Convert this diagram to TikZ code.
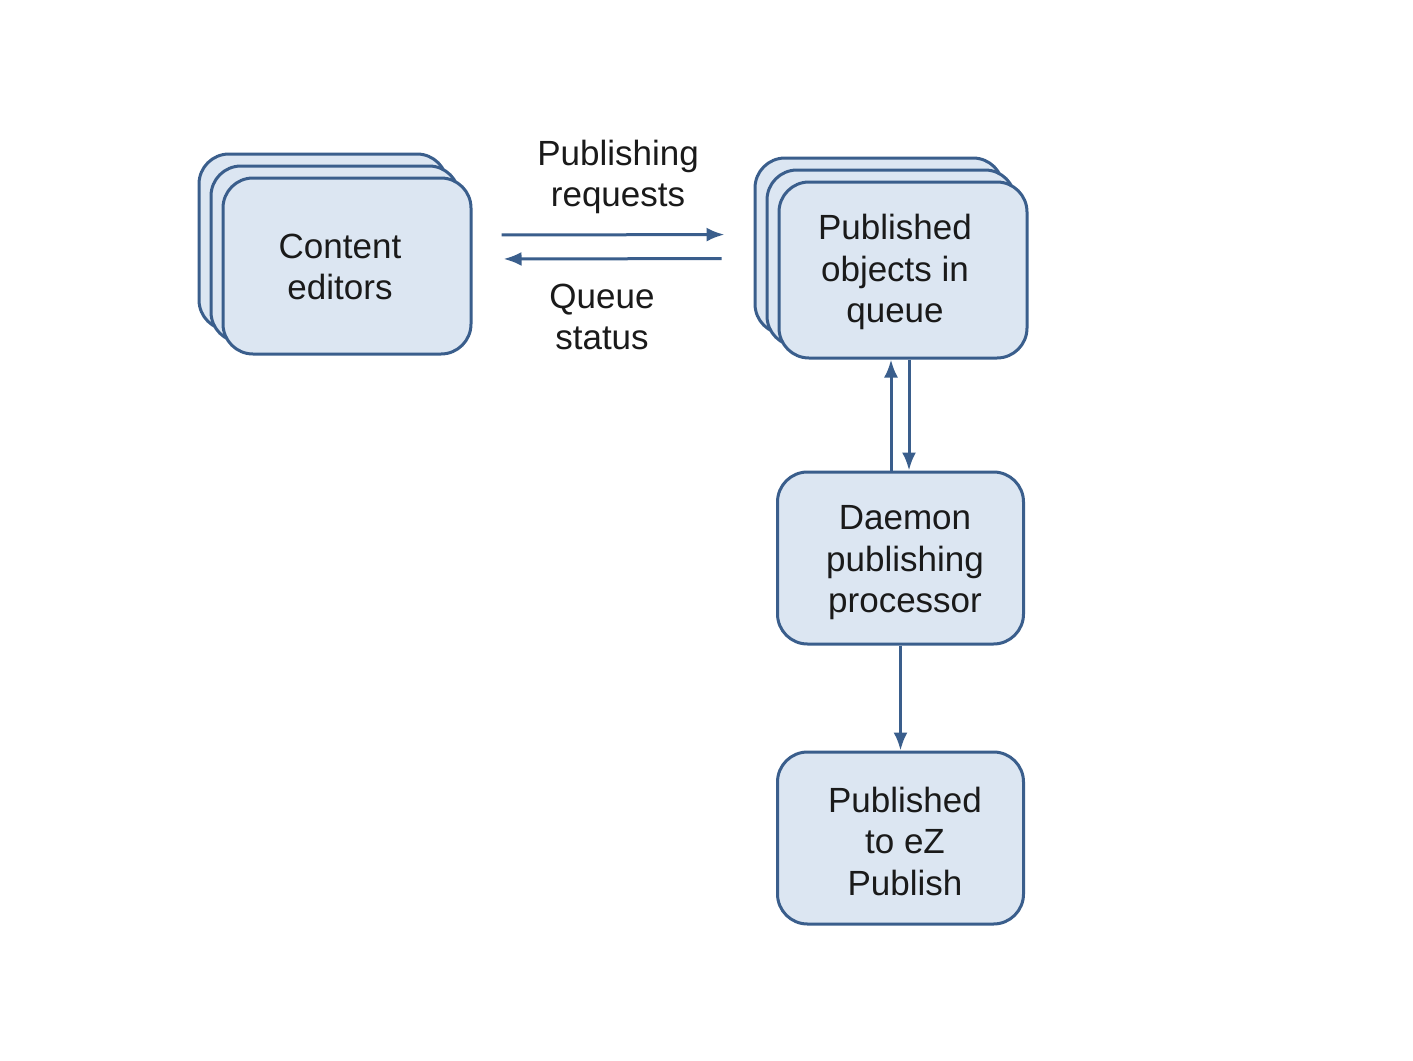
\documentclass[tikz,border=0pt]{standalone}
\usepackage{fontspec}
\setmainfont{Liberation Sans}
\usetikzlibrary{arrows.meta}
\definecolor{boxfill}{HTML}{DCE6F2}
\definecolor{boxline}{HTML}{3A5E8C}
\definecolor{txt}{HTML}{1A1A1A}
\begin{document}
\begin{tikzpicture}[x=1pt,y=-1pt,
  box/.style={draw=boxline, fill=boxfill, line width=3pt, rounded corners=30pt,
    minimum width=248pt, minimum height=176pt, inner sep=0pt},
  lbl/.style={inner sep=0pt, align=center, text=txt, font=\fontsize{35}{41.5}\selectfont},
  conn/.style={draw=boxline, line width=3pt, -{Latex[length=18pt,width=14pt]}}]
\path[use as bounding box, fill=white] (0,0) rectangle (1413,1060);
% Content editors stack
\node[box] (ce3) at (323,242) {};
\node[box] (ce2) at (335,254) {};
\node[box] (ce) at (347,266) {};
\node[lbl] (cet) at (340,267) {Content\\editors};
% Published objects stack
\node[box] (po3) at (879,246) {};
\node[box] (po2) at (891,258) {};
\node[box] (po) at (903,270) {};
\node[lbl] (pot) at (895,272) {Published\\objects in\\queue};
% Daemon
\node[box, minimum height=172pt, minimum width=246pt] (dp) at (900.5,558) {};
\node[lbl] (dpt) at (905,563) {Daemon\\publishing\\processor};
% Published to eZ
\node[box, minimum height=172pt, minimum width=246pt] (ez) at (900.5,838) {};
\node[lbl] (ezt) at (905,841) {Published\\to eZ\\Publish};
% labels
\node[lbl] (l1) at (618,177) {Publishing\\requests};
\node[lbl] (l2) at (602,317) {Queue\\status};
% connectors
\draw[conn, shorten <=29pt, shorten >=53pt] ([yshift=31pt]ce.east) -- ([yshift=35.5pt]po.west);
\draw[conn, shorten <=56pt, shorten >=31pt] ([yshift=11.5pt]po.west) -- ([yshift=7pt]ce.east);
\draw[conn] ([xshift=-9.5pt]dp.north) -- ([xshift=-9.5pt]dp.north |- po.south);
\draw[conn] ([xshift=8.5pt]dp.north |- po.south) -- ([xshift=8.5pt]dp.north);
\draw[conn] (dp.south) -- (ez.north);
\end{tikzpicture}
\end{document}
